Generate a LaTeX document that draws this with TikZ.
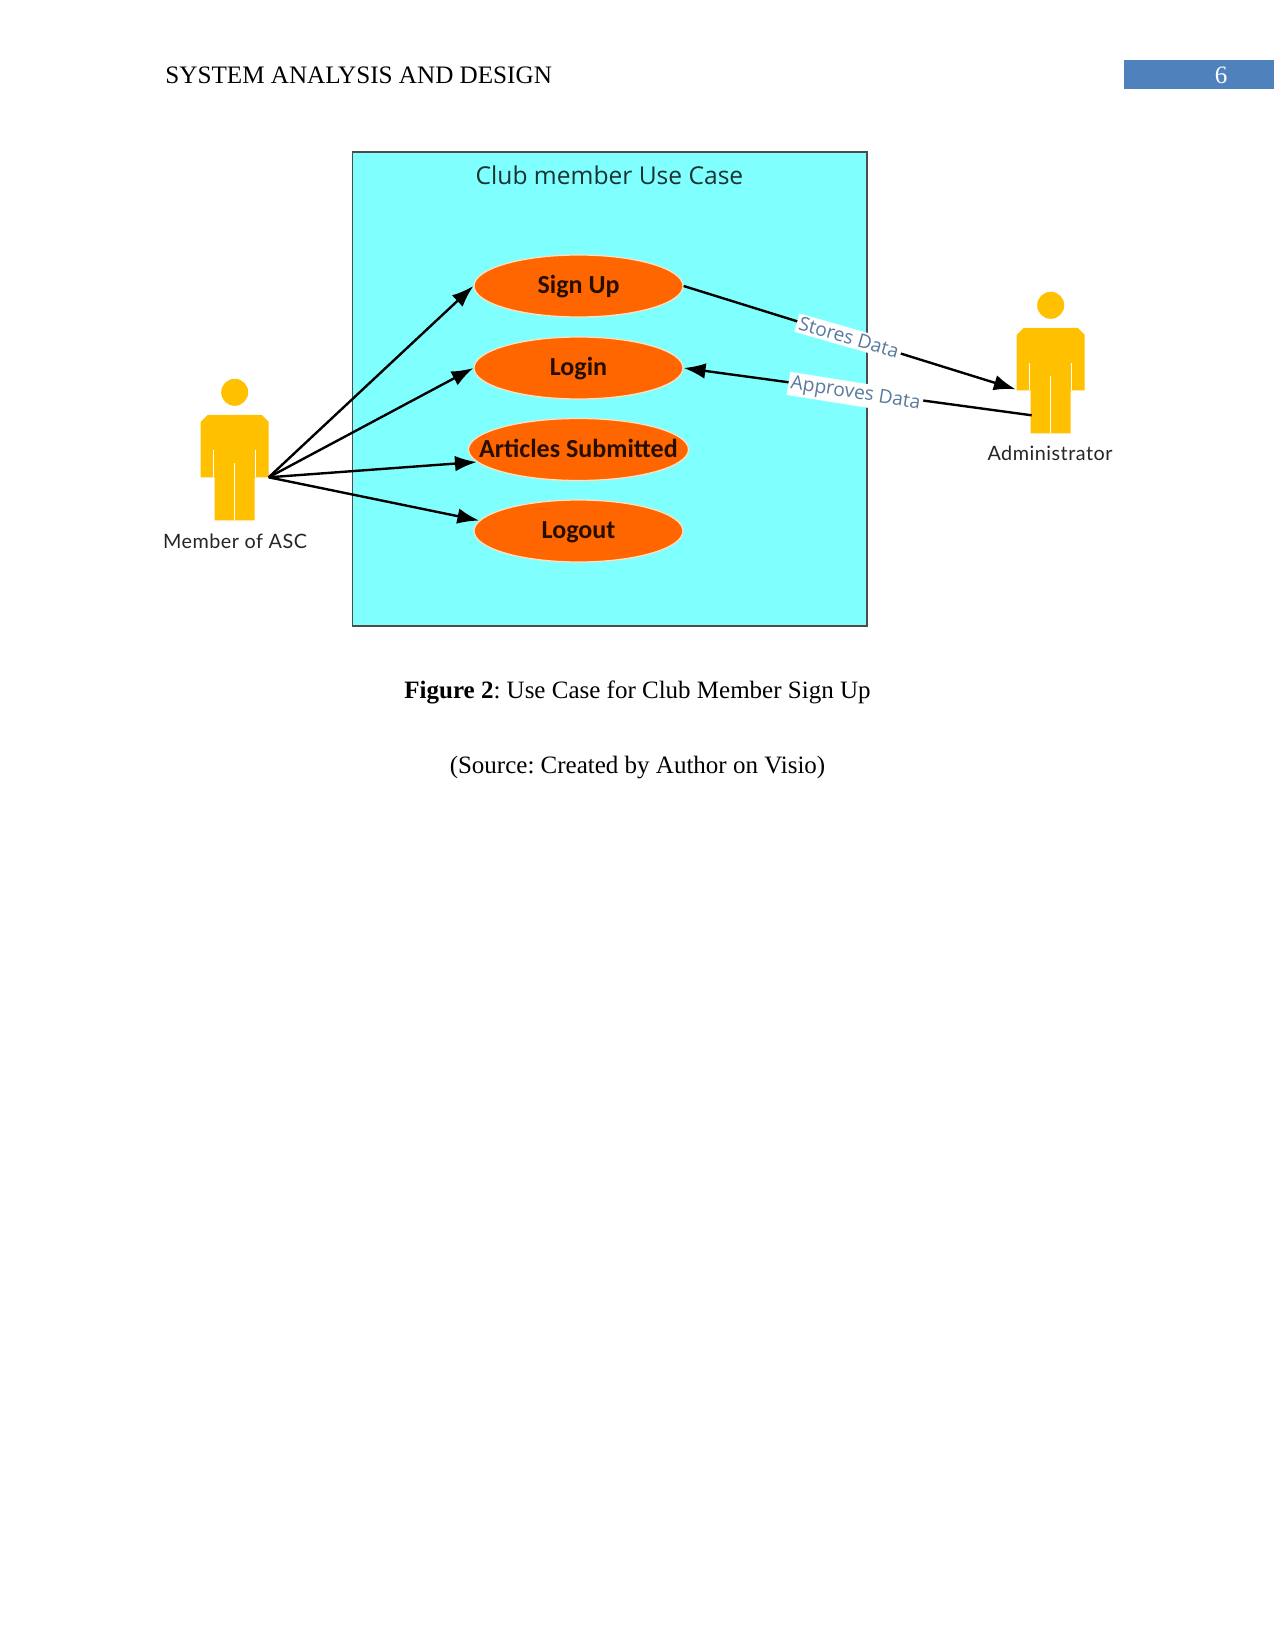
\documentclass[tikz,border=0pt]{standalone}
\usepackage{fontspec}
\setmainfont{Liberation Serif}
\newfontfamily\labelfont{Carlito}
\newfontfamily\titlefont{Open Sans}
\newfontfamily\actorfont[LetterSpace=2.5]{Lato}
\usetikzlibrary{arrows.meta,shapes.geometric}
\definecolor{panelcyan}{HTML}{80FFFF}
\definecolor{caseorange}{HTML}{FF6600}
\definecolor{figureyellow}{HTML}{FFC000}
\definecolor{pagebar}{HTML}{4F81BD}
\definecolor{flowtext}{HTML}{5A7A9C}
% Case names are centred without widening their ellipses
\newcommand{\casetext}[1]{\makebox[0pt]{\raisebox{-3.6pt}[0pt][0pt]{#1}}}
\tikzset{
  x=0.48pt,y=-0.48pt,
  usecase/.style={ellipse,fill=caseorange,draw=orange!25!white,line width=0.6pt,inner sep=0pt,
    minimum width=209*0.48pt,minimum height=62*0.48pt,font=\labelfont\bfseries\fontsize{12.5}{14}\selectfont,text=black!85!caseorange},
  flow/.style={-{Latex[length=10.5pt,width=7.5pt]},line width=1.15pt,black},
  flowlabel/.style={fill=white,inner sep=1.2pt,text=flowtext,font=\titlefont\fontsize{9.2}{10}\selectfont},
  actorname/.style={font=\actorfont\fontsize{9.5}{11}\selectfont,text=black!85},
  bodytext/.style={anchor=base,font=\fontsize{12}{14}\selectfont,text=black},
  pics/actor/.style={code={
    \fill[figureyellow] (0,0) circle (13.5);
    \fill[figureyellow] (-27,22.5) -- (27,22.5) -- (34,29.5) -- (34,85) -- (20,85) -- (20,128) -- (-20,128) -- (-20,85) -- (-34,85) -- (-34,29.5) -- cycle;
    \draw[white,line width=0.4pt] (-21,58) -- (-21,85) (21,58) -- (21,85) (0,71) -- (0,128);
    \coordinate (-hand) at (34,85);
    \coordinate (-outerhand) at (-35,84);
    \coordinate (-leg) at (-19,110);
  }}
}
\frenchspacing
\begin{document}
\begin{tikzpicture}
\useasboundingbox[fill=white] (0,0) rectangle (1275,1651);
% running header
\fill[pagebar] (1124,60.5) rectangle (1274,89.5);
\node[bodytext,anchor=base west,inner sep=0pt,font=\fontsize{12.07}{14}\selectfont] (head) at (165,84) {SYSTEM ANALYSIS AND DESIGN};
\node[bodytext,text=white,inner sep=0pt] (pageno) at (1221,84) {6};
% system boundary
\draw[fill=panelcyan,draw=black!70,line width=0.5pt] (352.5,152) rectangle (867,626);
\node[font=\titlefont\fontsize{11.8}{13}\selectfont,text=black!80!panelcyan] (title) at (609.5,175) {Club member Use Case};
% use cases
\node[usecase] (signup) at (578.5,286) {\casetext{Sign Up}};
\node[usecase] (login) at (578.5,368) {\casetext{Login}};
\node[usecase,minimum width=220*0.48pt] (articles) at (578.5,449.5) {\casetext{Articles Submitted}};
\node[usecase] (logout) at (578.5,531) {\casetext{Logout}};
% actors
\pic (member) at (234.7,392.3) {actor};
\pic (admin) at (1050.7,305.3) {actor};
\node[actorname] (membername) at (235,541.5) {Member of ASC};
\node[actorname] (adminname) at (1050,453.5) {Administrator};
% associations
\draw[flow] (member-hand) -- (signup.west);
\draw[flow] (member-hand) -- (login.west);
\draw[flow] (member-hand) -- (articles.187);
\draw[flow] (member-hand) -- (logout.174);
\draw[flow] (signup.east) -- (admin-outerhand);
\draw[flow] (admin-leg) -- (login.east);
\node[flowlabel,rotate=-16] (stores) at (849,337.5) {Stores Data};
\node[flowlabel,rotate=-9] (approves) at (855.5,394) {Approves Data};
% caption
\node[bodytext,inner sep=0pt] (figcap) at (637.5,698) {\textbf{Figure 2}: Use Case for Club Member Sign Up};
\node[bodytext,inner sep=0pt] (figsrc) at (637.5,773) {(Source: Created by Author on Visio)};
\end{tikzpicture}
\end{document}
